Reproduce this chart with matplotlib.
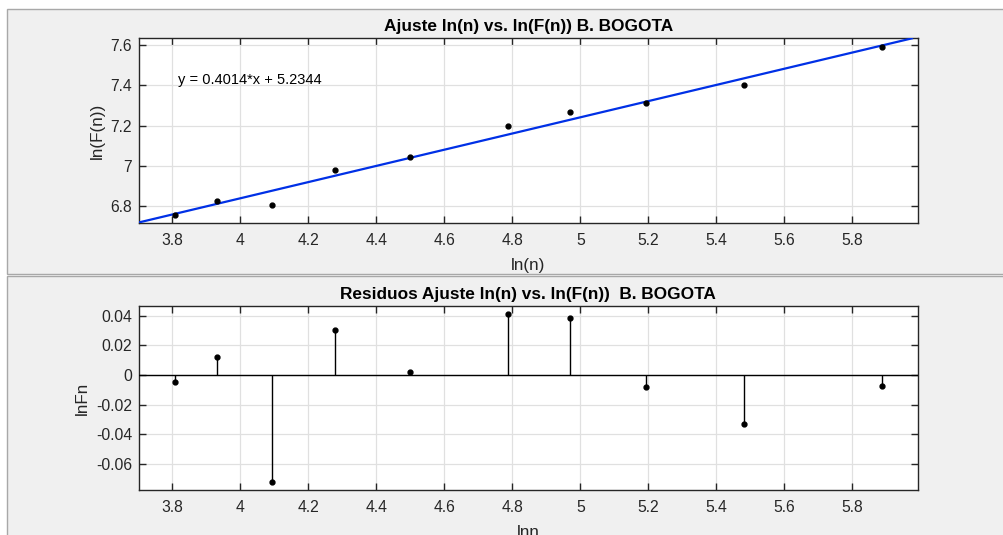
import matplotlib
matplotlib.use("Agg")
import matplotlib.pyplot as plt
from matplotlib.patches import Rectangle
from matplotlib.ticker import FuncFormatter
import numpy as np

# ---- data ----
lnn = [3.807, 3.932, 4.094, 4.277, 4.500, 4.787, 4.970, 5.193, 5.481, 5.886]
lnF = [6.7575, 6.8247, 6.8058, 6.9816, 7.0426, 7.1968, 7.2677, 7.3110, 7.4016, 7.5893]
slope = 0.4014
intercept = 5.2344
fit_x = [3.70, 5.975]
xticks = [3.8, 4.0, 4.2, 4.4, 4.6, 4.8, 5.0, 5.2, 5.4, 5.6, 5.8]
yticks_top = [6.8, 7.0, 7.2, 7.4, 7.6]
yticks_bot = [-0.06, -0.04, -0.02, 0.0, 0.02, 0.04]
title_top = "Ajuste ln(n) vs. ln(F(n)) B. BOGOTA"
title_bot = "Residuos Ajuste ln(n) vs. ln(F(n))  B. BOGOTA"
eq_text = "y = 0.4014*x + 5.2344"

lnn_a = np.array(lnn)
lnF_a = np.array(lnF)
fit_y = slope * np.array(fit_x) + intercept
resid = lnF_a - (slope * lnn_a + intercept)

plt.rcParams['font.family'] = ['Liberation Sans', 'DejaVu Sans']
AXC = '#262626'
GRID = '#e0e0e0'

fig = plt.figure(figsize=(10.04, 5.35), dpi=100)
fig.patch.set_facecolor('white')

W, H = 1004.0, 535.0
def fr(x0, y0, x1, y1):
    return Rectangle((x0 / W, 1 - y1 / H), (x1 - x0) / W, (y1 - y0) / H,
                     transform=fig.transFigure, facecolor='#f0f0f0',
                     edgecolor='#a8a8a8', linewidth=1.0, zorder=-10)
fig.patches.append(fr(7, 9, 1030, 274.3))
fig.patches.append(fr(7, 276.3, 1030, 560))

def style(ax, yticks, ylim, xlabel, ylabel, title):
    ax.set_facecolor('white')
    ax.set_xlim(3.702, 5.992)
    ax.set_ylim(*ylim)
    ax.set_xticks(xticks)
    ax.set_yticks(yticks)
    ax.xaxis.set_major_formatter(FuncFormatter(lambda v, p: '%g' % round(v, 4)))
    ax.yaxis.set_major_formatter(FuncFormatter(lambda v, p: '%g' % round(v, 4)))
    ax.grid(True, color=GRID, linewidth=0.9, zorder=0)
    ax.set_axisbelow(True)
    for s in ax.spines.values():
        s.set_color(AXC)
        s.set_linewidth(1.0)
    ax.tick_params(direction='in', length=5, width=1.0, color=AXC,
                   labelcolor=AXC, labelsize=11.3, top=True, right=True)
    ax.tick_params(axis='x', pad=7)
    ax.tick_params(axis='y', pad=5)
    ax.set_xlabel(xlabel, fontsize=12.3, color=AXC, labelpad=7)
    ax.set_ylabel(ylabel, fontsize=12.3, color=AXC, labelpad=4)
    ax.set_title(title, fontsize=12.4, fontweight='bold', color='black', pad=5)

ax1 = fig.add_axes([139 / W, 1 - 223.3 / H, (917.7 - 139) / W, 185 / H])
style(ax1, yticks_top, (6.716, 7.633), 'ln(n)', 'ln(F(n))', title_top)
ax1.plot(fit_x, fit_y, color='#0030e6', linewidth=1.6, zorder=3, clip_on=True)
ax1.plot(lnn, lnF, linestyle='none', marker='o', markersize=3.5,
         color='black', zorder=4)
ax1.text(3.817, 7.426, eq_text, fontsize=10.5, color='black', va='center', ha='left')

ax2 = fig.add_axes([139 / W, 1 - 490.3 / H, (917.7 - 139) / W, 184.6 / H])
style(ax2, yticks_bot, (-0.0777, 0.0467), 'lnn', 'lnFn', title_bot)
ax2.axhline(0, color='black', linewidth=1.0, zorder=3)
ax2.vlines(lnn, 0, resid, color='black', linewidth=1.0, zorder=3)
ax2.plot(lnn, resid, linestyle='none', marker='o', markersize=3.5,
         color='black', zorder=4)

fig.savefig('out.png', dpi=100, facecolor=fig.get_facecolor())
